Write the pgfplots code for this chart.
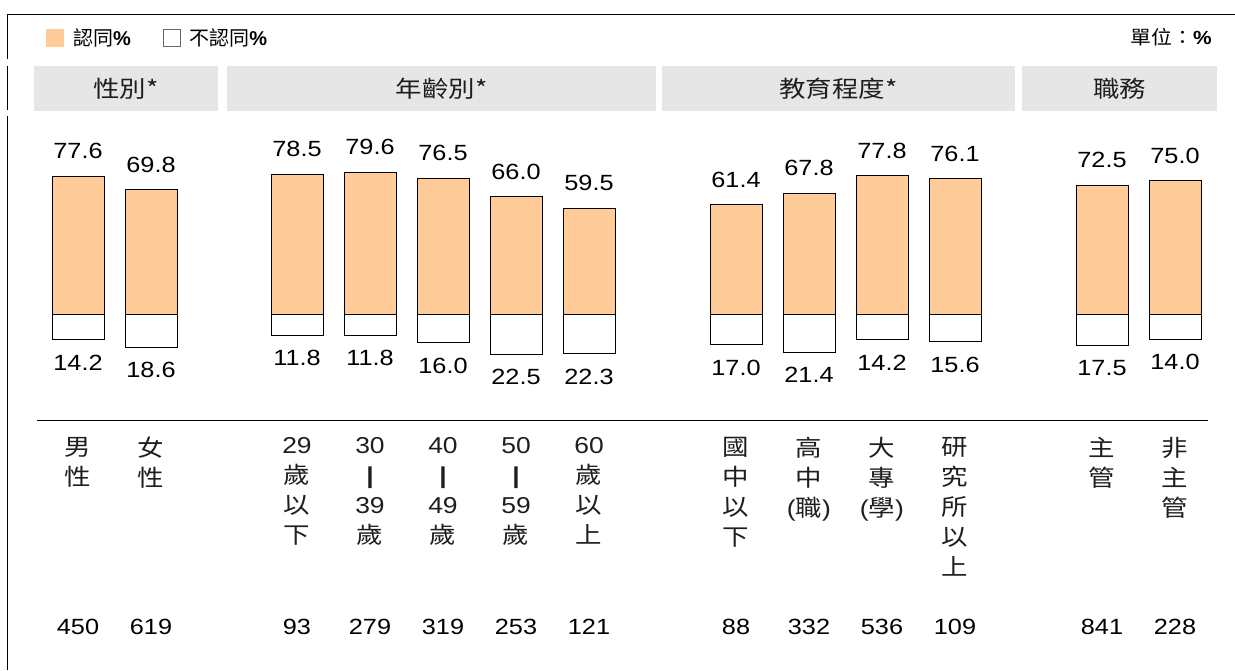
\documentclass[border=0pt]{standalone}
\usepackage{fontspec}
\setmainfont{Liberation Sans}
\newfontfamily\cjk{Noto Sans CJK TC}
\usepackage{pgfplots}
\usepackage{pgfplotstable}
\pgfplotsset{compat=1.18}
\definecolor{agreefill}{RGB}{255,204,153}
\definecolor{headgray}{RGB}{230,230,230}
\definecolor{txt}{RGB}{30,30,30}
\newcommand{\PX}[2]{({#1pt},{670pt-#2pt})}

\pgfplotstableread{
x agree dis
78 77.6 14.2
151 69.8 18.6
297 78.5 11.8
370 79.6 11.8
443 76.5 16.0
516 66.0 22.5
589 59.5 22.3
736 61.4 17.0
809 67.8 21.4
882 77.8 14.2
955 76.1 15.6
1102 72.5 17.5
1175 75.0 14.0
}\datatable

\begin{document}
\begin{tikzpicture}
\path[use as bounding box] (0,0) rectangle (1235pt,670pt);
% frame lines
\draw[line width=1pt] \PX{7}{14.5} -- \PX{1235}{14.5};
\draw[line width=1pt] \PX{7.5}{14.5} -- \PX{7.5}{59};
\draw[line width=1pt] \PX{7.5}{66} -- \PX{7.5}{110};
\draw[line width=1pt] \PX{7.5}{116} -- \PX{7.5}{670};
% header boxes
\fill[headgray] \PX{34}{66} rectangle \PX{218}{111};
\fill[headgray] \PX{227}{66} rectangle \PX{656}{111};
\fill[headgray] \PX{662}{66} rectangle \PX{1015}{111};
\fill[headgray] \PX{1022}{66} rectangle \PX{1217}{111};
\begin{scope}[every node/.style={inner sep=0pt, xscale=1.15, text=txt, font=\cjk\fontsize{23}{28}\selectfont}]
\node at \PX{126}{88.5} {性別*};
\node at \PX{441.5}{88.5} {年齡別*};
\node at \PX{838.5}{88.5} {教育程度*};
\node at \PX{1119.5}{88.5} {職務};
\end{scope}
% unit
\node[anchor=east, inner sep=0pt, xscale=1.1, font=\cjk\fontsize{19}{22}\selectfont] at \PX{1212}{37.5} {單位：{\rmfamily\bfseries\%}};
% separator line
\draw[line width=1pt] \PX{37}{421} -- \PX{1208}{421};

\begin{axis}[at={(0pt,0pt)}, anchor=south west, scale only axis,
  width=1235pt, height=670pt, xmin=0, xmax=1235, ymin=-200.2, ymax=176.6,
  hide axis, clip=false, ybar, bar width=52, bar shift=0pt,
  point meta=explicit symbolic, nodes near coords,
  legend columns=2,
  legend style={draw=none, fill=none, inner sep=0pt, at={(46/1235,1-38/670)}, anchor=west,
    font=\cjk\fontsize{20}{24}\selectfont,
    /tikz/every odd column/.append style={column sep=7pt},
    /tikz/every even column/.append style={column sep=30pt}},
  ]
\addplot[fill=agreefill, draw=black, line width=0.8pt,
  every node near coord/.append style={anchor=south, inner sep=0pt, yshift=17pt, text=black, font=\fontsize{22}{24}\selectfont, xscale=1.15},
  legend image code/.code={\fill[agreefill] (0pt,-8.5pt) rectangle (17pt,8.5pt);}]
  table[x=x, y=agree, meta=agree]{\datatable};
\addlegendentry{認同{\rmfamily\bfseries\%}}
\addplot[fill=white, draw=black, line width=0.8pt,
  every node near coord/.append style={anchor=north, inner sep=0pt, yshift=-15pt, text=black, font=\fontsize{22}{24}\selectfont, xscale=1.15},
  legend image code/.code={\draw[black!60, fill=white, line width=0.7pt] (0pt,-8.5pt) rectangle (17pt,8.5pt);}]
  table[x=x, y expr=-\thisrow{dis}, meta=dis]{\datatable};
\addlegendentry{不認同{\rmfamily\bfseries\%}}
\end{axis}

% category labels
\begin{scope}[every node/.style={anchor=north, inner sep=0pt, align=center, xscale=1.15, text=txt, font=\cjk\fontsize{23}{30}\selectfont}]
\node at \PX{78}{437} {男\\性};
\node at \PX{151}{437} {女\\性};
\node at \PX{297}{437} {{\rmfamily 29}\\歲\\以\\下};
\node at \PX{370}{437} {{\rmfamily 30}\\{\rmfamily\bfseries |}\\{\rmfamily 39}\\歲};
\node at \PX{443}{437} {{\rmfamily 40}\\{\rmfamily\bfseries |}\\{\rmfamily 49}\\歲};
\node at \PX{516}{437} {{\rmfamily 50}\\{\rmfamily\bfseries |}\\{\rmfamily 59}\\歲};
\node at \PX{589}{437} {{\rmfamily 60}\\歲\\以\\上};
\node at \PX{736}{437} {國\\中\\以\\下};
\node at \PX{809}{437} {高\\中\\{\rmfamily(}職{\rmfamily)}};
\node at \PX{882}{437} {大\\專\\{\rmfamily(}學{\rmfamily)}};
\node at \PX{955}{437} {研\\究\\所\\以\\上};
\node at \PX{1102}{437} {主\\管};
\node at \PX{1175}{437} {非\\主\\管};
\end{scope}
% sample sizes
\begin{scope}[every node/.style={inner sep=0pt, xscale=1.15, text=black, font=\fontsize{22}{24}\selectfont}]
\foreach \x/\n in {78/450,151/619,297/93,370/279,443/319,516/253,589/121,736/88,809/332,882/536,955/109,1102/841,1175/228}
  \node at \PX{\x}{627} {\n};
\end{scope}
\end{tikzpicture}
\end{document}
